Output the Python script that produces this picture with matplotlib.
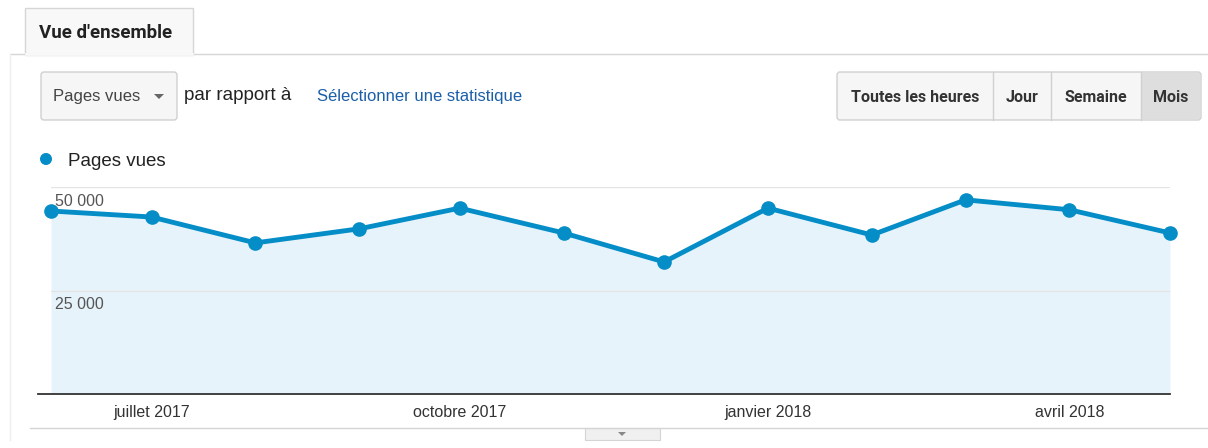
import matplotlib
matplotlib.use("Agg")
import matplotlib.pyplot as plt
from matplotlib.patches import Rectangle, FancyBboxPatch, Circle, Polygon
import datetime as dt

# ---- data ----
months = ["2017-06-01", "2017-07-01", "2017-08-01", "2017-09-01", "2017-10-01",
          "2017-11-01", "2017-12-01", "2018-01-01", "2018-02-01", "2018-03-01",
          "2018-04-01", "2018-05-01"]
pages_vues = [44200, 42750, 36500, 39900, 44900, 38900, 31900, 44900, 38400, 46900, 44500, 38900]
tick_dates = ["2017-07-01", "2017-10-01", "2018-01-01", "2018-04-01"]
tick_labels = ["juillet 2017", "octobre 2017", "janvier 2018", "avril 2018"]
y_ticks = [25000, 50000]
y_tick_labels = ["25 000", "50 000"]
series_name = "Pages vues"
buttons = ["Toutes les heures", "Jour", "Semaine", "Mois"]

W, H = 1208, 448
plt.rcParams['font.family'] = ['Liberation Sans', 'DejaVu Sans']
fig = plt.figure(figsize=(W / 100, H / 100), dpi=100)
fig.patch.set_facecolor("white")

BLUE = "#058dc7"
FILL = "#e6f3fa"

dates = [dt.datetime.strptime(m, "%Y-%m-%d") for m in months]
tdates = [dt.datetime.strptime(m, "%Y-%m-%d") for m in tick_dates]

# ---- chart axes ----
x0, x1, yb, yt = 51, 1170, 394, 187
ax = fig.add_axes([x0 / W, (H - yb) / H, (x1 - x0) / W, (yb - yt) / H])
ax.set_facecolor("none")
ax.fill_between(dates, pages_vues, 0, color=FILL, zorder=1, linewidth=0)
ax.plot(dates, pages_vues, color=BLUE, linewidth=3.5, marker="o", markersize=9.5,
        markerfacecolor=BLUE, markeredgecolor=BLUE, zorder=3, clip_on=False,
        solid_joinstyle="round")
ax.set_xlim(dates[0], dates[-1])
ax.set_ylim(0, 50000)
for yv in y_ticks:
    ax.axhline(yv, color="#e4e4e4", linewidth=0.9, zorder=2)
for yv, lab in zip(y_ticks, y_tick_labels):
    ax.annotate(lab, xy=(0, yv), xycoords=("axes fraction", "data"),
                xytext=(3, -5), textcoords="offset points", ha="left", va="top",
                fontsize=11.5, color="#555555", zorder=4)
ax.set_xticks(tdates)
ax.set_xticklabels(tick_labels, fontsize=11.5, color="#333333")
ax.tick_params(axis="x", length=0, pad=8)
ax.set_yticks([])
for s in ax.spines.values():
    s.set_visible(False)

# ---- overlay for UI elements (pixel coords) ----
ov = fig.add_axes([0, 0, 1, 1], zorder=-1)
ov.set_xlim(0, W)
ov.set_ylim(H, 0)
ov.axis("off")
ov2 = fig.add_axes([0, 0, 1, 1], zorder=5)
ov2.set_xlim(0, W)
ov2.set_ylim(H, 0)
ov2.axis("off")
ov2.patch.set_alpha(0)

# tab header
ov.plot([10, W], [54, 54], color="#d6d6d6", linewidth=1)
ov.add_patch(Rectangle((25, 8), 168, 47, facecolor="#f8f8f8", edgecolor="#d6d6d6", linewidth=1))
ov.plot([26, 192], [54.5, 54.5], color="#f8f8f8", linewidth=2)
ov.text(39, 33, "Vue d'ensemble", fontsize=13.5, fontweight="bold", color="#222222",
        va="center", ha="left", family=["Roboto", "DejaVu Sans"])
ov.plot([10, 10], [54, 440], color="#eeeeee", linewidth=1)

# dropdown
ov.add_patch(FancyBboxPatch((41, 72), 136, 48, boxstyle="round,pad=0,rounding_size=3",
                            facecolor="#f6f6f6", edgecolor="#d0d0d0", linewidth=1))
ov.text(53, 97, series_name, fontsize=12, color="#444444", va="center", ha="left")
ov.add_patch(Polygon([[154, 94], [164, 94], [159, 99]], closed=True, facecolor="#666666", edgecolor="none"))
ov.text(184, 96, "par rapport à", fontsize=13.5, color="#222222", va="center", ha="left")
ov.text(317, 97, "Sélectionner une statistique", fontsize=12, color="#1a5fa8", va="center", ha="left")

# buttons
bx = [837, 993, 1051, 1141, 1201]
ov.add_patch(FancyBboxPatch((837, 72), 364, 48, boxstyle="round,pad=0,rounding_size=3",
                            facecolor="#f6f6f6", edgecolor="#d0d0d0", linewidth=1))
ov.add_patch(Rectangle((1141, 73), 59, 46, facecolor="#dedede", edgecolor="none"))
for xd in bx[1:-1]:
    ov.plot([xd, xd], [72, 120], color="#d0d0d0", linewidth=1)
for i, lab in enumerate(buttons):
    ov.text((bx[i] + bx[i + 1]) / 2, 97, lab, fontsize=11.5, fontweight="bold",
            color="#333333", va="center", ha="center", family=["Roboto", "DejaVu Sans"])

# legend
ov.add_patch(Circle((46, 159), 6, facecolor=BLUE, edgecolor="none"))
ov.text(68, 161, series_name, fontsize=13.5, color="#222222", va="center", ha="left")

# baseline and bottom lines
ov2.plot([38, 1170], [394.5, 394.5], color="#333333", linewidth=1.3)
ov.plot([30, W], [428, 428], color="#d4d4d4", linewidth=1)
ov.add_patch(Rectangle((585, 428), 75, 12, facecolor="#f0f0f0", edgecolor="#d4d4d4", linewidth=0.8))
ov.add_patch(Polygon([[618, 432], [626, 432], [622, 436]], closed=True, facecolor="#888888", edgecolor="none"))

fig.savefig("out.png", dpi=100, facecolor="white")
